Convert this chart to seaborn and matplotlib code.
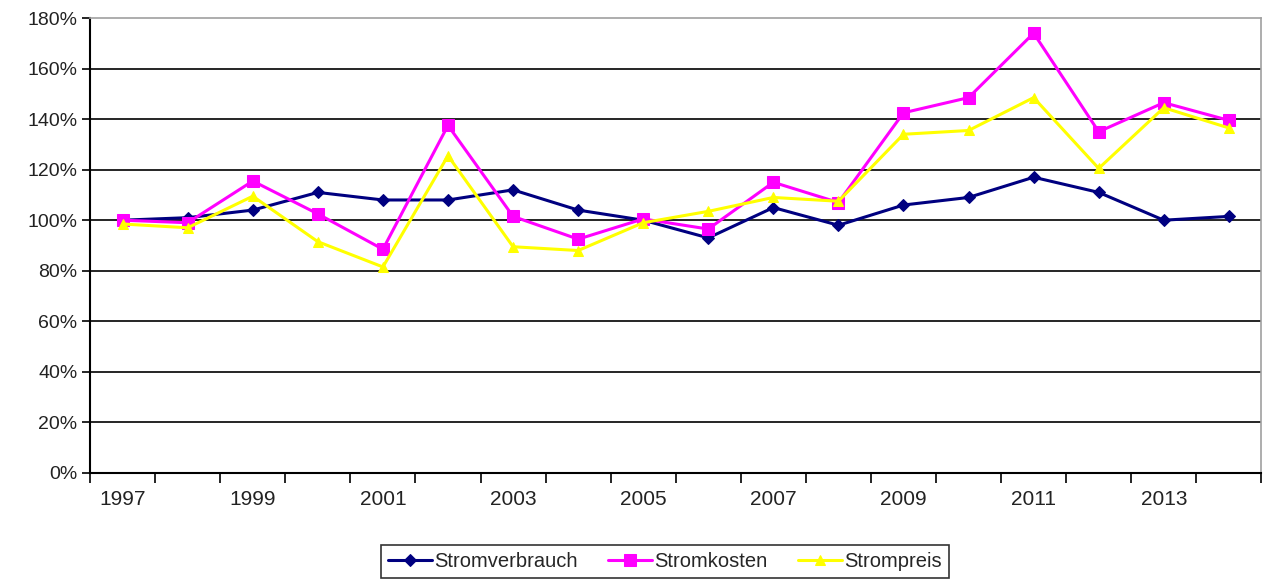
import numpy as np
import pandas as pd
import matplotlib
matplotlib.use("Agg")
import matplotlib.pyplot as plt
import seaborn as sns
from matplotlib.ticker import PercentFormatter, MultipleLocator, FixedLocator

# ==========================================
# DATA (index values, 1997 = 100%)
# ==========================================

years = list(range(1997, 2015))

stromverbrauch = [100, 101, 104, 111, 108, 108, 112, 104, 100, 93,
                  105, 98, 106, 109, 117, 111, 100, 101.5]
stromkosten = [100, 99, 115.5, 102.5, 88.5, 137.5, 101.5, 92.5, 100.5, 96.5,
               115, 107, 142.5, 148.5, 174, 135, 146.5, 139.5]
strompreis = [98.5, 97, 109.5, 91.5, 81.5, 125.5, 89.5, 88, 99, 103.5,
              109, 107.5, 134, 135.5, 148.5, 120.5, 144.5, 136.5]

series_names = ["Stromverbrauch", "Stromkosten", "Strompreis"]
series_values = [stromverbrauch, stromkosten, strompreis]
series_colors = ["#000080", "#FF00FF", "#FFFF00"]
series_markers = ["D", "s", "^"]
marker_sizes = [6, 8, 7.5]

y_ticks = list(range(0, 181, 20))
x_labels = list(range(1997, 2015, 2))

# ==========================================
# PLOT
# ==========================================

sns.set_theme(style="white")
plt.rcParams["font.family"] = ["Liberation Sans", "DejaVu Sans"]

fig = plt.figure(figsize=(12.69, 5.81), dpi=100)
ax = fig.add_axes([0.071, 0.186, 0.923, 0.783])

for name, vals, col, mk, ms in zip(series_names, series_values,
                                   series_colors, series_markers, marker_sizes):
    df = pd.DataFrame({"Jahr": years, "Wert": vals})
    sns.lineplot(
        data=df,
        x="Jahr",
        y="Wert",
        color=col,
        marker=mk,
        markersize=ms,
        markeredgecolor=col,
        linewidth=2.2,
        label=name,
        errorbar=None,
        ax=ax
    )

# axes limits and ticks
ax.set_xlim(1996.5, 2014.5)
ax.set_ylim(0, 180)

ax.yaxis.set_major_locator(FixedLocator(y_ticks))
ax.yaxis.set_major_formatter(PercentFormatter(decimals=0))
ax.xaxis.set_major_locator(FixedLocator(x_labels))
ax.xaxis.set_minor_locator(MultipleLocator(1, offset=0.5))

ax.tick_params(axis="y", which="major", length=6, width=1.2, color="black",
               labelsize=14, labelcolor="#222222", left=True, pad=3)
ax.tick_params(axis="x", which="major", length=0, labelsize=15,
               labelcolor="#222222", pad=12)
ax.tick_params(axis="x", which="minor", length=7, width=1.2, color="black",
               bottom=True)

ax.set_xlabel("")
ax.set_ylabel("")

# gridlines
ax.grid(True, axis="y", color="black", linewidth=1.2)
ax.grid(False, axis="x")
ax.set_axisbelow(True)
ax.get_ygridlines()[-1].set_visible(False)

# spines
for side in ["left", "bottom"]:
    ax.spines[side].set_color("black")
    ax.spines[side].set_linewidth(1.5)
for side in ["top", "right"]:
    ax.spines[side].set_color("#A0A0A0")
    ax.spines[side].set_linewidth(1.2)

# legend
ax.get_legend().remove()
handles, labels = ax.get_legend_handles_labels()
leg = fig.legend(
    handles,
    labels,
    loc="lower center",
    bbox_to_anchor=(0.524, -0.012),
    ncol=3,
    fontsize=14.5,
    frameon=True,
    fancybox=False,
    edgecolor="black",
    handlelength=2.2,
    handletextpad=0.1,
    columnspacing=1.5,
    borderpad=0.35
)
leg.get_frame().set_linewidth(1.2)

plt.savefig("out.png", dpi=100)
plt.close()
